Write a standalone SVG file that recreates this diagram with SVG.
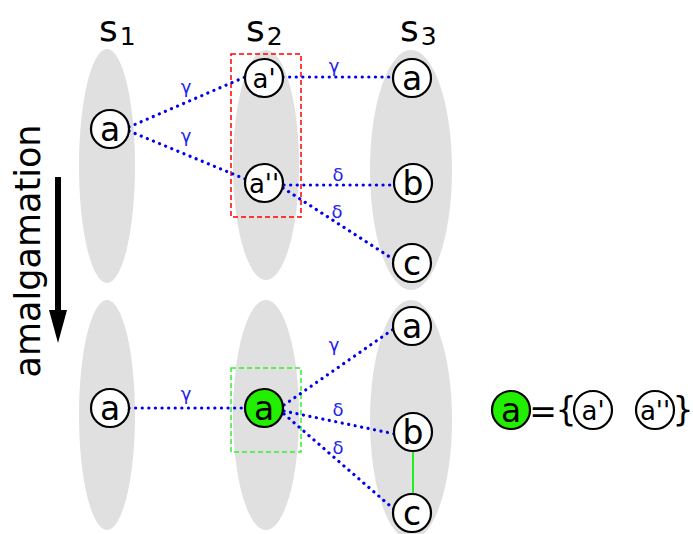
<svg xmlns="http://www.w3.org/2000/svg" width="693" height="534" viewBox="0 0 693 534">
<style>
.set{fill:#e0e0e0}
.node{fill:#fff;stroke:#000;stroke-width:2.2}
.green{fill:#22ee00}
.t{font-family:"DejaVu Sans",sans-serif;font-size:33px;fill:#000;text-anchor:middle}
.ts{font-size:26px}
.lbl{font-family:"DejaVu Sans",sans-serif;font-size:18px;fill:#2222ee;text-anchor:middle}
.e{stroke:#0000ee;stroke-width:3.2;stroke-dasharray:0.1 6.5;fill:none;stroke-linecap:round}
.hdr{font-family:"DejaVu Sans",sans-serif;font-size:36px;fill:#000}
</style>
<g id="sets">
<ellipse class="set" cx="107" cy="166" rx="28" ry="117"/>
<ellipse class="set" cx="266" cy="165" rx="33" ry="115"/>
<ellipse class="set" cx="411" cy="170" rx="41" ry="120"/>
<ellipse class="set" cx="107" cy="415" rx="28" ry="115"/>
<ellipse class="set" cx="266" cy="415" rx="33" ry="115"/>
<ellipse class="set" cx="411" cy="420" rx="41" ry="120"/>
</g>
<g id="headers">
<text class="hdr" x="99" y="41">s<tspan font-size="25" dx="2" dy="4">1</tspan></text>
<text class="hdr" x="246" y="41">s<tspan font-size="25" dx="2" dy="4">2</tspan></text>
<text class="hdr" x="400" y="41">s<tspan font-size="25" dx="2" dy="4">3</tspan></text>
</g>
<g id="amalgamation">
<text font-family="DejaVu Sans,sans-serif" font-size="35" text-anchor="middle" transform="translate(40,251) rotate(-90)">amalgamation</text>
<line x1="58" y1="177" x2="58" y2="318" stroke="#000" stroke-width="6"/>
<polygon points="49,310 67,310 58,343" fill="#000"/>
</g>
<g id="boxes">
<rect x="231" y="54" width="70" height="163" fill="none" stroke="#ff0000" stroke-width="1.5" stroke-dasharray="5 3"/>
<rect x="231" y="368" width="70" height="84" fill="none" stroke="#33ee33" stroke-width="1.5" stroke-dasharray="5 3"/>
</g>
<g id="connectors">
<line class="e" x1="129" y1="127" x2="245" y2="77"/>
<line class="e" x1="129" y1="131" x2="245" y2="179"/>
<line class="e" x1="283" y1="77" x2="393" y2="77"/>
<line class="e" x1="284" y1="185" x2="394" y2="185"/>
<line class="e" x1="283" y1="188" x2="396" y2="261"/>
<line class="e" x1="129" y1="408" x2="245" y2="408"/>
<line class="e" x1="284" y1="405" x2="395" y2="328"/>
<line class="e" x1="284" y1="411" x2="395" y2="434"/>
<line class="e" x1="284" y1="414" x2="396" y2="511"/>
<line x1="413" y1="451" x2="413" y2="495" stroke="#22ee22" stroke-width="2"/>
<text class="lbl" x="186" y="93">γ</text>
<text class="lbl" x="186" y="142">γ</text>
<text class="lbl" x="334" y="72">γ</text>
<text class="lbl" x="338" y="181">δ</text>
<text class="lbl" x="337" y="218">δ</text>
<text class="lbl" x="186" y="400">γ</text>
<text class="lbl" x="334" y="351">γ</text>
<text class="lbl" x="338" y="416">δ</text>
<text class="lbl" x="338" y="454">δ</text>
</g>
<g id="n1"><circle class="node" cx="110" cy="129" r="19"/><text class="t" x="110" y="141">a</text></g>
<g id="n2"><circle class="node" cx="264" cy="78" r="19"/><text class="t ts" x="264" y="88">a'</text></g>
<g id="n3"><circle class="node" cx="264" cy="183" r="19"/><text class="t ts" x="264" y="193">a''</text></g>
<g id="n4"><circle class="node" cx="412" cy="78" r="19"/><text class="t" x="412" y="90">a</text></g>
<g id="n5"><circle class="node" cx="413" cy="183" r="19"/><text class="t" x="413" y="195">b</text></g>
<g id="n6"><circle class="node" cx="412" cy="263" r="19"/><text class="t" x="412" y="275">c</text></g>
<g id="n7"><circle class="node" cx="110" cy="408" r="19"/><text class="t" x="110" y="420">a</text></g>
<g id="n8"><circle class="node green" cx="264" cy="408" r="19"/><text class="t" x="264" y="420">a</text></g>
<g id="n9"><circle class="node" cx="412" cy="326" r="19"/><text class="t" x="412" y="338">a</text></g>
<g id="n10"><circle class="node" cx="413" cy="432" r="19"/><text class="t" x="413" y="444">b</text></g>
<g id="n11"><circle class="node" cx="412" cy="513" r="19"/><text class="t" x="412" y="525">c</text></g>
<g id="legend">
<circle class="node green" cx="511" cy="410" r="19"/><text class="t" x="511" y="422">a</text>
<text class="t" x="543" y="423" font-size="32">=</text>
<text class="t" x="566" y="421" font-size="30">{</text>
<circle class="node" cx="593" cy="410" r="19" stroke-width="1.6"/><text class="t ts" x="593" y="420">a'</text>
<circle class="node" cx="655" cy="410" r="19" stroke-width="1.6"/><text class="t ts" x="655" y="420">a''</text>
<text class="t" x="683" y="421" font-size="30">}</text>
</g>
</svg>
